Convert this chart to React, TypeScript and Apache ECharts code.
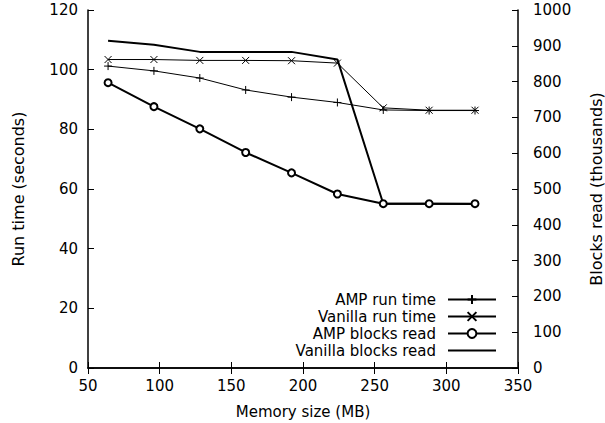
import React, { useEffect, useRef } from "react";
import * as echarts from "echarts";

const memorySizes = [64, 96, 128, 160, 192, 224, 256, 288, 320];
const ampRunTime = [101.2, 99.6, 97.2, 93.2, 90.8, 89.0, 86.5, 86.3, 86.3];
const vanillaRunTime = [103.4, 103.4, 103.1, 103.1, 103.0, 102.2, 87.2, 86.4, 86.4];
const ampBlocksRead = [797, 730, 668, 602, 545, 486, 459, 459, 459];
const vanillaBlocksRead = [914, 903, 883, 883, 883, 862, 459, 459, 458];

const FONT = "DejaVu Sans";
const PLUS = "path://M5,0L5,10M0,5L10,5";
const CROSS = "path://M0,0L10,10M0,10L10,0";

const pairs = (ys: number[]) => memorySizes.map((x, i) => [x, ys[i]]);

export default function App() {
  const ref = useRef<HTMLDivElement>(null);
  useEffect(() => {
    document.body.style.margin = "0";
    const chart = echarts.init(ref.current!, null, { renderer: "svg" });
    const axisLine = { show: true, lineStyle: { color: "#000", width: 1.5 } };
    const tick = { show: true, inside: true, length: 6, lineStyle: { color: "#000", width: 1 } };
    const label = { color: "#000", fontFamily: FONT, fontSize: 15 };
    chart.setOption({
      animation: false,
      backgroundColor: "#fff",
      grid: {
        left: 88,
        right: 87,
        top: 10,
        bottom: 55,
        show: false,
        containLabel: false,
        outerBoundsMode: "none",
      },
      legend: {
        orient: "vertical",
        align: "right",
        right: 108,
        top: 292,
        padding: 0,
        itemWidth: 48,
        itemHeight: 11,
        itemGap: 2,
        textStyle: {
          color: "#000",
          fontFamily: FONT,
          fontSize: 15,
          lineHeight: 15,
          padding: [0, 7, 0, 0],
        },
        data: ["AMP run time", "Vanilla run time", "AMP blocks read", "Vanilla blocks read"],
      },
      xAxis: [
        {
          type: "value",
          min: 50,
          max: 350,
          interval: 50,
          name: "Memory size (MB)",
          nameLocation: "middle",
          nameGap: 36,
          nameTextStyle: { color: "#000", fontFamily: FONT, fontSize: 15 },
          axisLine,
          axisTick: tick,
          axisLabel: { ...label, margin: 10 },
          splitLine: { show: false },
        },
        {
          type: "value",
          position: "top",
          min: 50,
          max: 350,
          interval: 50,
          axisLine,
          axisTick: tick,
          axisLabel: { show: false },
          splitLine: { show: false },
        },
      ],
      yAxis: [
        {
          type: "value",
          min: 0,
          max: 120,
          interval: 20,
          name: "Run time (seconds)",
          nameLocation: "middle",
          nameGap: 62,
          nameTextStyle: { color: "#000", fontFamily: FONT, fontSize: 16 },
          axisLine,
          axisTick: tick,
          axisLabel: { ...label, margin: 10 },
          splitLine: { show: false },
        },
        {
          type: "value",
          position: "right",
          min: 0,
          max: 1000,
          interval: 100,
          name: "Blocks read (thousands)",
          nameLocation: "middle",
          nameGap: 70,
          nameTextStyle: { color: "#000", fontFamily: FONT, fontSize: 16 },
          axisLine,
          axisTick: tick,
          axisLabel: { ...label, margin: 15, formatter: (v: number) => String(v) },
          splitLine: { show: false },
        },
      ],
      series: [
        {
          name: "AMP run time",
          type: "line",
          yAxisIndex: 0,
          data: pairs(ampRunTime),
          symbol: PLUS,
          symbolSize: 8,
          showAllSymbol: true,
          lineStyle: { color: "#000", width: 1 },
          itemStyle: { color: "#000", borderColor: "#000", borderWidth: 1 },
        },
        {
          name: "Vanilla run time",
          type: "line",
          yAxisIndex: 0,
          data: pairs(vanillaRunTime),
          symbol: CROSS,
          symbolSize: 7,
          showAllSymbol: true,
          lineStyle: { color: "#000", width: 1 },
          itemStyle: { color: "#000", borderColor: "#000", borderWidth: 1 },
        },
        {
          name: "AMP blocks read",
          type: "line",
          yAxisIndex: 1,
          data: pairs(ampBlocksRead),
          symbol: "emptyCircle",
          symbolSize: 7,
          showAllSymbol: true,
          lineStyle: { color: "#000", width: 2 },
          itemStyle: { color: "#000", borderColor: "#000", borderWidth: 1.5 },
        },
        {
          name: "Vanilla blocks read",
          type: "line",
          yAxisIndex: 1,
          data: pairs(vanillaBlocksRead),
          symbol: "none",
          lineStyle: { color: "#000", width: 2 },
          itemStyle: { color: "rgba(0,0,0,0)", borderColor: "rgba(0,0,0,0)", borderWidth: 0 },
        },
      ],
    });
    return () => chart.dispose();
  }, []);
  return <div ref={ref} style={{ width: 605, height: 423 }} />;
}
